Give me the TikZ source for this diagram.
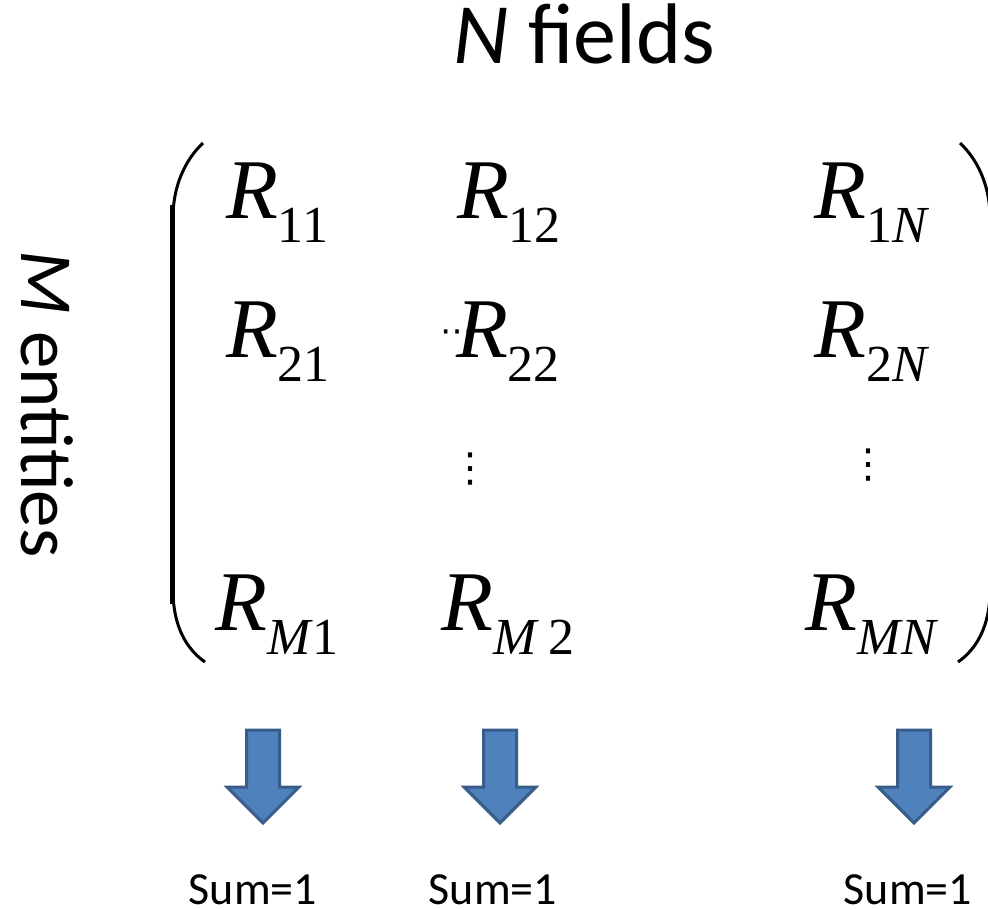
\documentclass[tikz,border=0pt]{standalone}
\usepackage{fontspec}
\setmainfont{Carlito}
\newfontfamily\timesfont{Liberation Serif}
\newfontfamily\dotsfont{DejaVu Sans}
\usetikzlibrary{positioning,shapes.arrows}
\definecolor{arrowblue}{RGB}{79,129,189}
\definecolor{arrowedge}{RGB}{56,93,138}
\tikzset{
  entry/.style={anchor=base, inner sep=0pt, font=\timesfont\fontsize{85}{90}\selectfont},
  sumtext/.style={anchor=base, inner sep=0pt, text depth=0pt, font=\fontsize{46}{50}\selectfont},
  bigtext/.style={inner sep=0pt, font=\fontsize{#1}{#1}\selectfont},
  dotsnode/.style={inner sep=0pt, font=\dotsfont\fontsize{#1}{#1}\selectfont},
  downarrow/.style={single arrow, rotate=-90, anchor=tail, draw=arrowedge, fill=arrowblue,
    line width=3pt, inner xsep=0pt, inner ysep=15pt, minimum width=69pt, minimum height=93pt,
    single arrow head extend=19.5pt, single arrow tip angle=90},
  bracket/.style={line width=3pt},
  bracketbar/.style={line width=5pt}
}
\newcommand{\Rsub}[1]{\textit{R}\raisebox{-24pt}{\fontsize{52}{52}\selectfont #1}}

\begin{document}
\begin{tikzpicture}[x=1pt, y=-1pt]
  \useasboundingbox (0,0) rectangle (988,910);
  \clip (0,0) rectangle (988,910);
  % headings
  \node[bigtext=86, anchor=base] (fields) at (584,63) {\textit{N} fields};
  \node[bigtext=75, rotate=-90, anchor=base west] (entities) at (21,250) {\textit{M} entities};
  % brackets
  \draw[bracket] (203,143) .. controls (185,160) and (174,185) .. (173,214);
  \draw[bracketbar] (172.5,205) -- (172.5,604);
  \draw[bracket] (173,594) .. controls (174,625) and (185,648) .. (205,662);
  \draw[bracket] (960,143) .. controls (978,160) and (989,185) .. (990,214);
  \draw[bracketbar] (990.5,205) -- (990.5,604);
  \draw[bracket] (990,594) .. controls (989,625) and (978,648) .. (958,662);
  % entries
  \node[dotsnode=34] (hdots) at (457,336) {⋯};
  \node[entry] (r11) at (277,218) {\Rsub{11}};
  \node[entry] (r12) at (509,218) {\Rsub{12}};
  \node[entry] (r1n) at (872,218) {\Rsub{1\textit{N}}};
  \node[entry] (r21) at (278,357) {\Rsub{21}};
  \node[entry] (r22) at (508,357) {\Rsub{22}};
  \node[entry] (r2n) at (872,357) {\Rsub{2\textit{N}}};
  \node[dotsnode=40] (vd2) at (470,469) {⋮};
  \node[dotsnode=40] (vdn) at (868,465) {⋮};
  \node[entry] (rm1) at (277,630) {\Rsub{\textit{M}1}};
  \node[entry] (rm2) at (508,630) {\Rsub{\textit{M}\,2}};
  \node[entry] (rmn) at (872,630) {\Rsub{\textit{MN}}};
  % arrows and sums
  \node[downarrow] (a1) at (263,728.5) {};
  \node[downarrow] (a2) at (500,728.5) {};
  \node[downarrow] (an) at (914,728.5) {};
  \node[sumtext] (s1) at (253,904) {Sum=1};
  \node[sumtext] (s2) at (493,904) {Sum=1};
  \node[sumtext] (sn) at (908,904) {Sum=1};
\end{tikzpicture}
\end{document}
